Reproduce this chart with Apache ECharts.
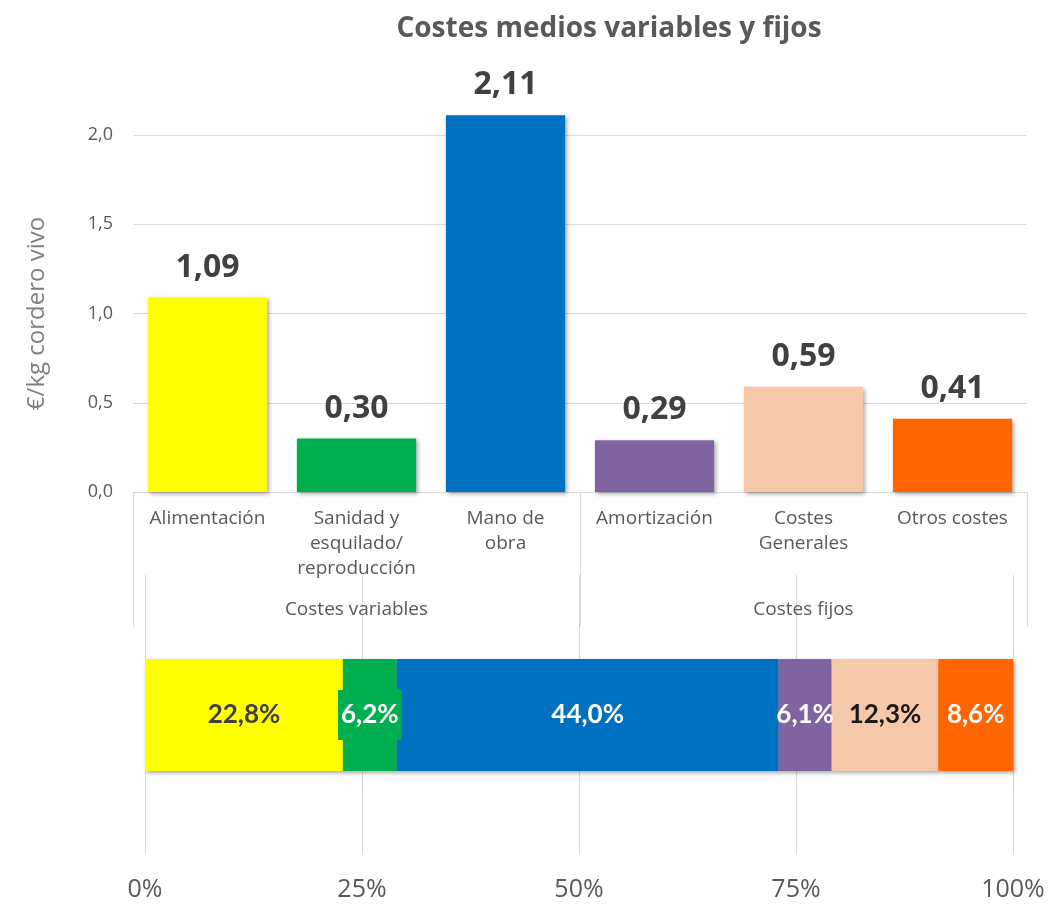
<!DOCTYPE html>
<html>
<head>
<meta charset="utf-8">
<script src="https://cdn.jsdelivr.net/npm/echarts@6/dist/echarts.min.js"></script>
<style>
  html, body { margin: 0; padding: 0; background: #fff; }
  #chart { width: 1058px; height: 911px; }
</style>
</head>
<body>
<div id="chart"></div>
<script>
const categories = ['Alimentación', 'Sanidad y\nesquilado/\nreproducción', 'Mano de\nobra', 'Amortización', 'Costes\nGenerales', 'Otros costes']
const groups = ['Costes variables', 'Costes fijos']
const costValues = [1.09, 0.30, 2.11, 0.29, 0.59, 0.41]
const shareValues = [22.8, 6.2, 44.0, 6.1, 12.3, 8.6]
const colors = ['#FFFF00', '#00B050', '#0070C0', '#8064A2', '#F6C8AA', '#FF6600']
const shareLabelColors = ['#404040', '#ffffff', '#ffffff', '#ffffff', '#1a1a1a', '#ffffff']

const font = "'Open Sans', sans-serif"
const gridColor = '#d9d9d9'
const textGrey = '#595959'
const shadow = { shadowBlur: 4, shadowOffsetX: 2, shadowOffsetY: 2, shadowColor: 'rgba(0,0,0,0.35)' }

const chart = echarts.init(document.getElementById('chart'))

const shareSeries = shareValues.map((v, i) => ({
  type: 'bar',
  stack: 'share',
  xAxisIndex: 2,
  yAxisIndex: 1,
  barWidth: '40%',
  data: [v],
  itemStyle: Object.assign({ color: colors[i] }, shadow),
  label: {
    show: true,
    position: 'inside',
    formatter: (p) => p.value.toFixed(1).replace('.', ',') + '%',
    fontFamily: 'Lato, sans-serif',
    fontWeight: 'bold',
    fontSize: 26,
    color: shareLabelColors[i],
    backgroundColor: i === 1 ? colors[i] : 'transparent',
    padding: i === 1 ? [12, 3] : 0,
  },
}))

chart.setOption({
  animation: false,
  textStyle: { fontFamily: font },
  title: {
    text: 'Costes medios variables y fijos',
    left: 604,
    top: 10,
    textAlign: 'center',
    textStyle: { fontFamily: font, fontSize: 28, fontWeight: 'bold', color: textGrey },
  },
  grid: [
    { left: 133, right: 31, top: 135, bottom: 419 },
    { left: 145, right: 45, top: 575, bottom: 56 },
  ],
  xAxis: [
    {
      type: 'category',
      gridIndex: 0,
      data: categories,
      axisLine: { show: true, lineStyle: { color: gridColor } },
      axisTick: { show: false },
      axisLabel: { interval: 0, margin: 14, fontSize: 19, lineHeight: 25, color: textGrey },
    },
    {
      type: 'category',
      gridIndex: 0,
      position: 'bottom',
      data: groups,
      axisLine: { show: false },
      axisTick: { show: true, length: 135, lineStyle: { color: gridColor } },
      axisLabel: { interval: 0, margin: 108, fontSize: 19, color: textGrey },
    },
    {
      type: 'value',
      gridIndex: 1,
      min: 0,
      max: 100,
      interval: 25,
      axisLine: { show: false },
      axisTick: { show: false },
      splitLine: { show: true, lineStyle: { color: gridColor } },
      axisLabel: { formatter: '{value}%', fontSize: 25, margin: 22, color: textGrey },
    },
  ],
  yAxis: [
    {
      type: 'value',
      gridIndex: 0,
      min: 0,
      max: 2,
      interval: 0.5,
      name: '€/kg cordero vivo',
      nameLocation: 'middle',
      nameGap: 84,
      nameTextStyle: { fontSize: 24, color: '#7f7f7f' },
      axisLine: { show: false },
      axisTick: { show: false },
      splitLine: { show: true, lineStyle: { color: gridColor } },
      axisLabel: { formatter: (v) => v.toFixed(1).replace('.', ','), fontSize: 18, margin: 20, color: textGrey },
    },
    {
      type: 'category',
      gridIndex: 1,
      data: ['Total'],
      show: false,
    },
  ],
  series: [
    {
      type: 'bar',
      xAxisIndex: 0,
      yAxisIndex: 0,
      barCategoryGap: '20%',
      clip: false,
      data: costValues.map((v, i) => ({ value: v, itemStyle: Object.assign({ color: colors[i] }, shadow) })),
      label: {
        show: true,
        position: 'top',
        distance: 14,
        formatter: (p) => p.value.toFixed(2).replace('.', ','),
        fontSize: 32,
        fontWeight: 'bold',
        color: '#404040',
      },
    },
    ...shareSeries,
  ],
})
</script>
</body>
</html>
